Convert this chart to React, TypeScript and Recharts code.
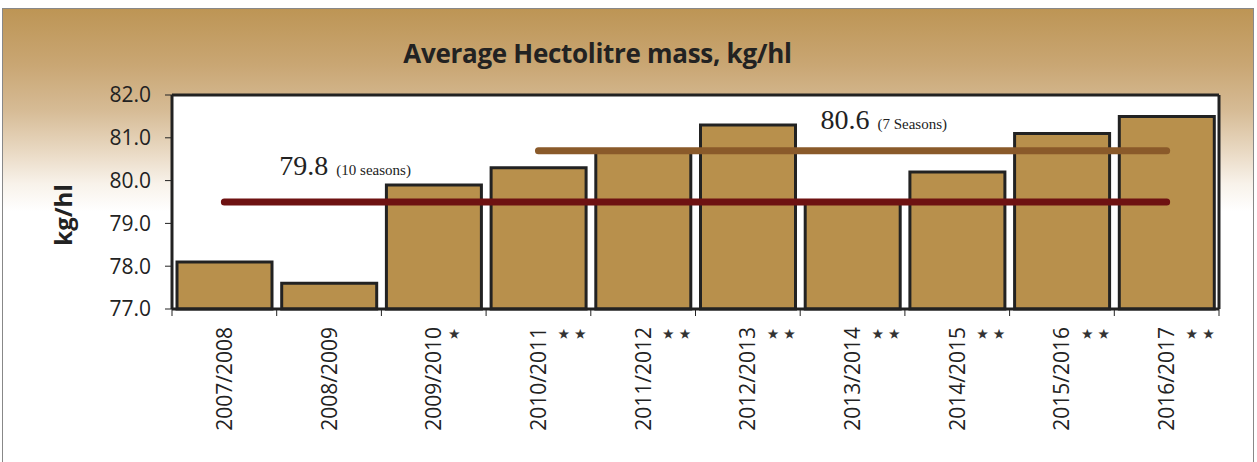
import React from 'react';
import {
  Bar,
  CartesianGrid,
  ComposedChart,
  LabelList,
  Line,
  ReferenceLine,
  XAxis,
  YAxis,
} from 'recharts';

// seasons on the x axis, with the footnote stars printed next to each label
const seasons = [
  '2007/2008', '2008/2009', '2009/2010', '2010/2011', '2011/2012',
  '2012/2013', '2013/2014', '2014/2015', '2015/2016', '2016/2017',
];
const stars = ['', '', '⋆', '⋆⋆', '⋆⋆', '⋆⋆', '⋆⋆', '⋆⋆', '⋆⋆', '⋆⋆'];

// average hectolitre mass per season, kg/hl
const hlMass = [78.1, 77.6, 79.9, 80.3, 80.7, 81.3, 79.5, 80.2, 81.1, 81.5];

// long-term averages as drawn (10 seasons, and the last 7 seasons)
const avg10 = [79.5, 79.5, 79.5, 79.5, 79.5, 79.5, 79.5, 79.5, 79.5, 79.5];
const avg7 = [null, null, null, 80.7, 80.7, 80.7, 80.7, 80.7, 80.7, 80.7];

const yTicks = [77, 78, 79, 80, 81, 82];

const data = seasons.map((s, i) => ({
  season: s,
  star: stars[i],
  mass: hlMass[i],
  avg10: avg10[i],
  avg7: avg7[i],
}));

const sans = '"Open Sans", "Liberation Sans", sans-serif';
const serif = '"Liberation Serif", "DejaVu Serif", serif';
const ink = '#222';

const SeasonTick = (props: any) => {
  const { x, y, payload, index } = props;
  const s = stars[index] || '';
  const half = payload.offset || 0;
  const axisY = y - 8;
  return (
    <g>
      <line x1={x - half} x2={x - half} y1={axisY} y2={axisY + 7} stroke={ink} strokeWidth={1} />
      {index === seasons.length - 1 && (
        <line x1={x + half} x2={x + half} y1={axisY} y2={axisY + 7} stroke={ink} strokeWidth={1} />
      )}
      <text
        x={x}
        y={y + 10}
        dy="0.36em"
        transform={`rotate(-90, ${x}, ${y + 10})`}
        textAnchor="end"
        fontFamily={sans}
        fontSize={21}
        fill={ink}
      >
        {payload.value}
      </text>
      {s && (
        <text
          x={x + (s.length === 1 ? 20 : 33)}
          y={y + 16}
          dominantBaseline="central"
          textAnchor="middle"
          fontFamily='"DejaVu Sans", sans-serif'
          fontSize={28}
          letterSpacing={-1}
          fill="#333"
        >
          {s}
        </text>
      )}
    </g>
  );
};

const avgLabel = (first: number, value: string, note: string, dx: number, dy: number) =>
  (props: any) => {
    const { x, y, index } = props;
    if (index !== first) return null;
    return (
      <text x={x + dx} y={y + dy} fontFamily={serif} fill={ink}>
        <tspan fontSize={28}>{value}</tspan>
        <tspan fontSize={15} dx={8}>{note}</tspan>
      </text>
    );
  };

const UnitLabel = (props: any) => {
  const { viewBox } = props;
  const cx = 62;
  const cy = viewBox.y + viewBox.height / 2 + 13;
  return (
    <text
      x={cx}
      y={cy}
      transform={`rotate(-90, ${cx}, ${cy})`}
      textAnchor="middle"
      dominantBaseline="central"
      fontFamily={sans}
      fontWeight={700}
      fontSize={24}
      fill={ink}
    >
      kg/hl
    </text>
  );
};

export default function App() {
  return (
    <div style={{ position: 'absolute', left: 0, top: 0, width: 1257, height: 462, background: '#fff' }}>
      <div
        style={{
          position: 'absolute',
          left: 2,
          top: 8,
          width: 1250,
          height: 460,
          border: '1px solid #888',
          background:
            'linear-gradient(to bottom, #bd9555 0%, #c9a673 12%, #d6bb95 22%, #e9d9c3 31%, #f8f2ea 38%, #ffffff 44%)',
        }}
      />
      <div
        style={{
          position: 'absolute',
          left: 0,
          top: 35,
          width: 1257,
          textAlign: 'center',
          fontFamily: sans,
          fontWeight: 700,
          fontSize: 26,
          color: ink,
        }}
      >
        <span style={{ position: 'relative', left: -31, letterSpacing: -0.3 }}>Average Hectolitre mass, kg/hl</span>
      </div>
      <div style={{ position: 'absolute', left: 0, top: 0 }}>
        <ComposedChart
          width={1257}
          height={462}
          data={data}
          margin={{ top: 95, right: 37, left: 102, bottom: 13 }}
          barCategoryGap={5}
        >
          <CartesianGrid horizontal={false} vertical={false} fill="#fff" />
          <XAxis
            dataKey="season"
            interval={0}
            height={140}
            tick={<SeasonTick />}
            tickLine={false}
            axisLine={{ stroke: ink, strokeWidth: 3 }}
          />
          <YAxis
            domain={[77, 82]}
            ticks={yTicks}
            width={70}
            tickFormatter={(v) => Number(v).toFixed(1)}
            tick={{ fontFamily: sans, fontSize: 21, fill: ink }}
            tickLine={{ stroke: ink }}
            tickSize={7}
            tickMargin={14}
            axisLine={{ stroke: ink, strokeWidth: 3 }}
            label={<UnitLabel />}
          />
          <YAxis
            yAxisId="right"
            orientation="right"
            domain={[77, 82]}
            width={1}
            tick={false}
            tickLine={false}
            axisLine={{ stroke: ink, strokeWidth: 3 }}
          />
          <ReferenceLine y={82} stroke={ink} strokeWidth={3} ifOverflow="visible" />
          <Bar dataKey="mass" fill="#b8904c" stroke={ink} strokeWidth={3} isAnimationActive={false} />
          <Line
            dataKey="avg10"
            stroke="#6e1212"
            strokeWidth={7}
            strokeLinecap="round"
            dot={false}
            activeDot={false}
            isAnimationActive={false}
          >
            <LabelList dataKey="avg10" content={avgLabel(0, '79.8', '(10 seasons)', 55, -27)} />
          </Line>
          <Line
            dataKey="avg7"
            stroke="#8a5a2a"
            strokeWidth={7}
            strokeLinecap="round"
            dot={false}
            activeDot={false}
            connectNulls={false}
            isAnimationActive={false}
          >
            <LabelList dataKey="avg7" content={avgLabel(3, '80.6', '(7 Seasons)', 282, -22)} />
          </Line>
        </ComposedChart>
      </div>
    </div>
  );
}
